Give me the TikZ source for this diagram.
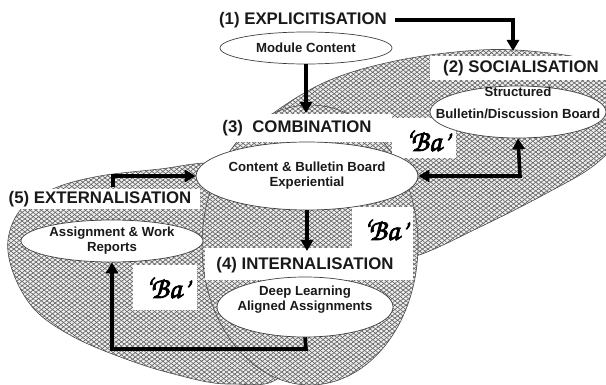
\documentclass[tikz,border=0pt]{standalone}
\usepackage{fontspec}
\setmainfont{Liberation Sans}
\newfontfamily\chorusfont{texgyrechorus-mediumitalic.otf}[FakeBold=2.5]
\usetikzlibrary{shapes.geometric,arrows.meta,patterns.meta}
\newcommand{\bafont}{\chorusfont\fontsize{30}{30}\selectfont}
\tikzset{
  region/.style={preaction={fill=gray!12},
    preaction={pattern={Lines[angle=38,distance=3.4pt,line width=.65pt]},pattern color=black!62},
    pattern={Lines[angle=-38,distance=3.4pt,line width=.65pt]},pattern color=black!62,
    draw=black!70,line width=.6pt},
  ell/.style={ellipse,draw=black!75,line width=.7pt,fill=white,inner sep=0pt},
  body/.style={font=\bfseries\fontsize{13.2}{15}\selectfont,text=black!90,inner sep=0pt,align=center},
  head/.style={font=\bfseries\fontsize{16.8}{18}\selectfont,text=black!90,inner sep=0pt},
  batext/.style={font=\bafont,inner sep=0pt},
  arr/.style={line width=3.6pt,line join=miter,-{Triangle[length=11pt,width=12pt]}},
  darr/.style={line width=3.6pt,line join=miter,{Triangle[length=11pt,width=12pt]}-{Triangle[length=11pt,width=12pt]}},
  wbox/.style={fill=white}
}
\begin{document}
\begin{tikzpicture}[x=1pt,y=-1pt]
\useasboundingbox (0,0) rectangle (606,385);
\clip (0,0) rectangle (606,385);
% regions
\path[region] plot[smooth cycle,tension=0.6] coordinates {(8,240) (22,208) (55,188) (100,176) (160,169) (215,163) (270,175) (300,260) (285,370) (230,384) (170,373) (115,355) (70,335) (35,310) (14,275)};
\path[region] plot[smooth cycle,tension=0.6] coordinates {(232,200) (255,135) (275,112) (330,80) (400,60) (480,50) (540,52) (595,62) (625,85) (628,125) (597,163) (547,193) (480,227) (413,257) (360,262) (290,240)};
\path[region] (310,245) ellipse [x radius=108, y radius=140];
% white label boxes
\fill[wbox] (430,56) rectangle (606,80);
\fill[wbox] (222,114) rectangle (392,142);
\fill[wbox] (392,118) rectangle (456,158);
\fill[wbox] (0,189) rectangle (200,209);
\fill[wbox] (352,207) rectangle (413,250);
\fill[wbox] (205,248) rectangle (413,280);
\fill[wbox] (133,265) rectangle (197,310);
% ellipses
\node[ell,minimum width=172pt,minimum height=32pt,body] (module) at (306,48) {Module Content};
\node[ell,minimum width=176pt,minimum height=52pt] (bulletin) at (518,112) {};
\node[body] (structured) at (518,92) {Structured};
\node[body] (bultext) at (518,114) {Bulletin/Discussion Board};
\node[ell,minimum width=180pt,minimum height=68pt,body] (content) at (307,176) {Content \& Bulletin Board\\Experiential};
\node[ell,minimum width=182pt,minimum height=42pt,body] (assign) at (112,241) {Assignment \& Work\\Reports};
\node[ell,minimum width=176pt,minimum height=60pt] (deep) at (305,307) {};
\node[body] (deeptext) at (305,300) {Deep Learning\\Aligned Assignments};
% headings
\node[head] (h1) at (303,20) {(1) EXPLICITISATION};
\node[head] (h2) at (521,68) {(2) SOCIALISATION};
\node[head] (h3) at (297,128) {(3)~~COMBINATION};
\node[head] (h5) at (100,199) {(5) EXTERNALISATION};
\node[head] (h4) at (305,265) {(4) INTERNALISATION};
% Ba
\node[batext] (ba1) at (426,141) {‘Ba’};
\node[batext] (ba2) at (384,230) {‘Ba’};
\node[batext] (ba3) at (166,288) {‘Ba’};
% connectors
\coordinate (c1) at (513,20);
\coordinate (c1end) at (513,51);
\draw[arr] (h1.east) ++(8,0) coordinate (c1start) -- (c1) -- (c1end);
\coordinate (c2end) at (306,113);
\draw[arr] (module.south) -- (c2end);
\coordinate (c3start) at (113,187);
\draw[arr] (c3start) |- (content.west);
\coordinate (c4) at (520,176);
\draw[darr] (content.east) -- (c4) -- (bulletin.south);
\coordinate (c5end) at (307,251);
\draw[arr] (content.south) -- (c5end);
\coordinate (c6) at (306,349);
\draw[arr] (deep.south) -- (c6) -| (assign.south);
\end{tikzpicture}
\end{document}
